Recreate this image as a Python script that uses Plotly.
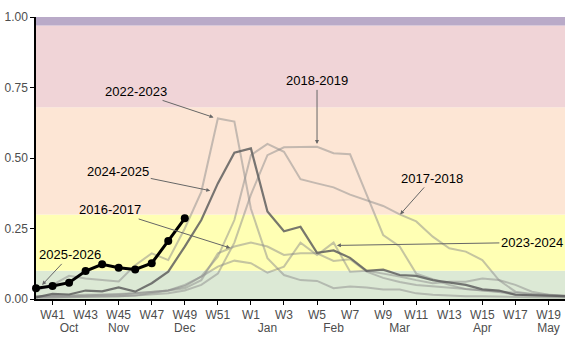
import plotly.graph_objects as go

# ---- data ----
weeks = ["W40", "W41", "W42", "W43", "W44", "W45", "W46", "W47", "W48", "W49", "W50", "W51", "W52",
         "W1", "W2", "W3", "W4", "W5", "W6", "W7", "W8", "W9", "W10", "W11", "W12", "W13", "W14",
         "W15", "W16", "W17", "W18", "W19", "W20"]
tick_weeks = weeks[1::2]
months = ["Oct", "Nov", "Dec", "Jan", "Feb", "Mar", "Apr", "May"]
month_weeks = ["W42", "W45", "W49", "W2", "W6", "W10", "W15", "W19"]

band_edges = [0.0, 0.10, 0.30, 0.68, 0.97, 1.00]
band_colors = ["#dce9d5", "#ffffb4", "#fde6d5", "#f0d4d7", "#b9aac8"]

s2016_2017 = [0.010, 0.010, 0.012, 0.012, 0.015, 0.015, 0.020, 0.025, 0.030, 0.038, 0.067, 0.162, 0.186,
              0.200, 0.186, 0.156, 0.162, 0.162, 0.135, 0.141, 0.097, 0.075, 0.060, 0.050, 0.045, 0.040,
              0.035, 0.030, 0.025, 0.020, 0.015, 0.012, 0.010]
s2017_2018 = [0.010, 0.010, 0.012, 0.015, 0.015, 0.018, 0.020, 0.025, 0.030, 0.045, 0.080, 0.150, 0.280,
              0.510, 0.550, 0.522, 0.425, 0.410, 0.396, 0.370, 0.350, 0.330, 0.300, 0.275, 0.221, 0.180,
              0.168, 0.138, 0.067, 0.026, 0.018, 0.015, 0.012]
s2018_2019 = [0.005, 0.005, 0.008, 0.008, 0.010, 0.010, 0.012, 0.015, 0.020, 0.030, 0.050, 0.090, 0.200,
              0.370, 0.510, 0.538, 0.540, 0.540, 0.517, 0.513, 0.370, 0.227, 0.186, 0.090, 0.070, 0.050,
              0.035, 0.030, 0.025, 0.015, 0.012, 0.010, 0.008]
s2022_2023 = [0.030, 0.050, 0.082, 0.073, 0.067, 0.062, 0.120, 0.162, 0.138, 0.250, 0.380, 0.640, 0.629,
              0.320, 0.145, 0.085, 0.067, 0.064, 0.038, 0.044, 0.041, 0.034, 0.034, 0.020, 0.015, 0.012,
              0.010, 0.010, 0.008, 0.007, 0.006, 0.005, 0.005]
s2023_2024 = [0.005, 0.005, 0.006, 0.008, 0.008, 0.010, 0.012, 0.020, 0.030, 0.050, 0.079, 0.115, 0.136,
              0.127, 0.093, 0.115, 0.200, 0.156, 0.200, 0.097, 0.100, 0.090, 0.080, 0.067, 0.056, 0.061,
              0.061, 0.073, 0.067, 0.050, 0.026, 0.015, 0.010]
s2024_2025 = [0.006, 0.018, 0.016, 0.030, 0.027, 0.041, 0.026, 0.056, 0.097, 0.186, 0.280, 0.410, 0.519,
              0.534, 0.310, 0.240, 0.256, 0.164, 0.172, 0.146, 0.100, 0.104, 0.085, 0.082, 0.067, 0.058,
              0.050, 0.034, 0.030, 0.015, 0.013, 0.012, 0.010]
s2025_2026 = [0.038, 0.046, 0.058, 0.099, 0.123, 0.111, 0.105, 0.127, 0.206, 0.286]

# ---- figure ----
fig = go.Figure()

light = "rgba(140,140,140,0.50)"
history = [("2016-2017", s2016_2017, light, 2),
           ("2017-2018", s2017_2018, light, 2),
           ("2018-2019", s2018_2019, light, 2),
           ("2022-2023", s2022_2023, light, 2),
           ("2023-2024", s2023_2024, light, 2),
           ("2024-2025", s2024_2025, "rgba(95,95,95,0.85)", 2.2)]

for name, vals, col, w in history:
    fig.add_trace(go.Scatter(x=list(range(len(vals))), y=vals, mode="lines", name=name,
                             line=dict(color=col, width=w), showlegend=False))

fig.add_trace(go.Scatter(x=list(range(len(s2025_2026))), y=s2025_2026, mode="lines+markers",
                         name="2025-2026", line=dict(color="black", width=3),
                         marker=dict(color="black", size=8), cliponaxis=False, showlegend=False))

# dummy trace for month axis
fig.add_trace(go.Scatter(x=[0], y=[None], xaxis="x2", mode="lines", showlegend=False,
                         hoverinfo="skip"))

for i in range(len(band_colors)):
    fig.add_shape(type="rect", xref="paper", yref="y", x0=0, x1=1,
                  y0=band_edges[i], y1=band_edges[i + 1], fillcolor=band_colors[i],
                  line=dict(width=0), layer="below")

# annotations: (text, tip x index, tip value, ax, ay)
ann = [("2022-2023", 10.74, 0.644, -78, -26),
       ("2018-2019", 17.0, 0.55, 0, -63),
       ("2024-2025", 10.54, 0.384, -92, -19),
       ("2016-2017", 11.75, 0.181, -120, -38),
       ("2017-2018", 22.03, 0.30, 32, -36),
       ("2023-2024", 18.2, 0.19, 195, -3),
       ("2025-2026", 0.37, 0.05, 28, -30)]
for t, xx, yy, ax, ay in ann:
    fig.add_annotation(x=xx, y=yy, text=t, showarrow=True, ax=ax, ay=ay,
                       arrowhead=2, arrowsize=0.8, arrowwidth=1, arrowcolor="#666666",
                       font=dict(size=13, color="black"))

font = "Liberation Sans, Arial, sans-serif"
fig.update_layout(
    width=581, height=353,
    margin=dict(l=36, r=16, t=17, b=54),
    paper_bgcolor="white", plot_bgcolor="white",
    font=dict(family=font, size=12, color="#4d4d4d"),
    xaxis=dict(range=[0, 32], tickmode="array", automargin=False,
               tickvals=[weeks.index(w) for w in tick_weeks], ticktext=tick_weeks,
               showgrid=False, zeroline=False, showline=True, linecolor="black", linewidth=1.5,
               ticks="outside", ticklen=4, tickcolor="black", tickfont=dict(size=12, color="#4d4d4d")),
    xaxis2=dict(overlaying="x", matches="x", side="bottom", range=[0, 32], tickmode="array",
                automargin=False,
                tickvals=[weeks.index(w) for w in month_weeks], ticktext=months,
                showgrid=False, zeroline=False, showline=False, ticks="",
                ticklabelstandoff=20, tickfont=dict(size=12, color="#4d4d4d")),
    yaxis=dict(range=[0, 1], tickvals=[0, 0.25, 0.5, 0.75, 1.0], tickformat=".2f", automargin=False,
               showgrid=False, zeroline=False, showline=True, linecolor="black", linewidth=1.5,
               ticks="outside", ticklen=4, tickcolor="black", tickfont=dict(size=12, color="#4d4d4d")),
)

fig.write_html("out.html")
